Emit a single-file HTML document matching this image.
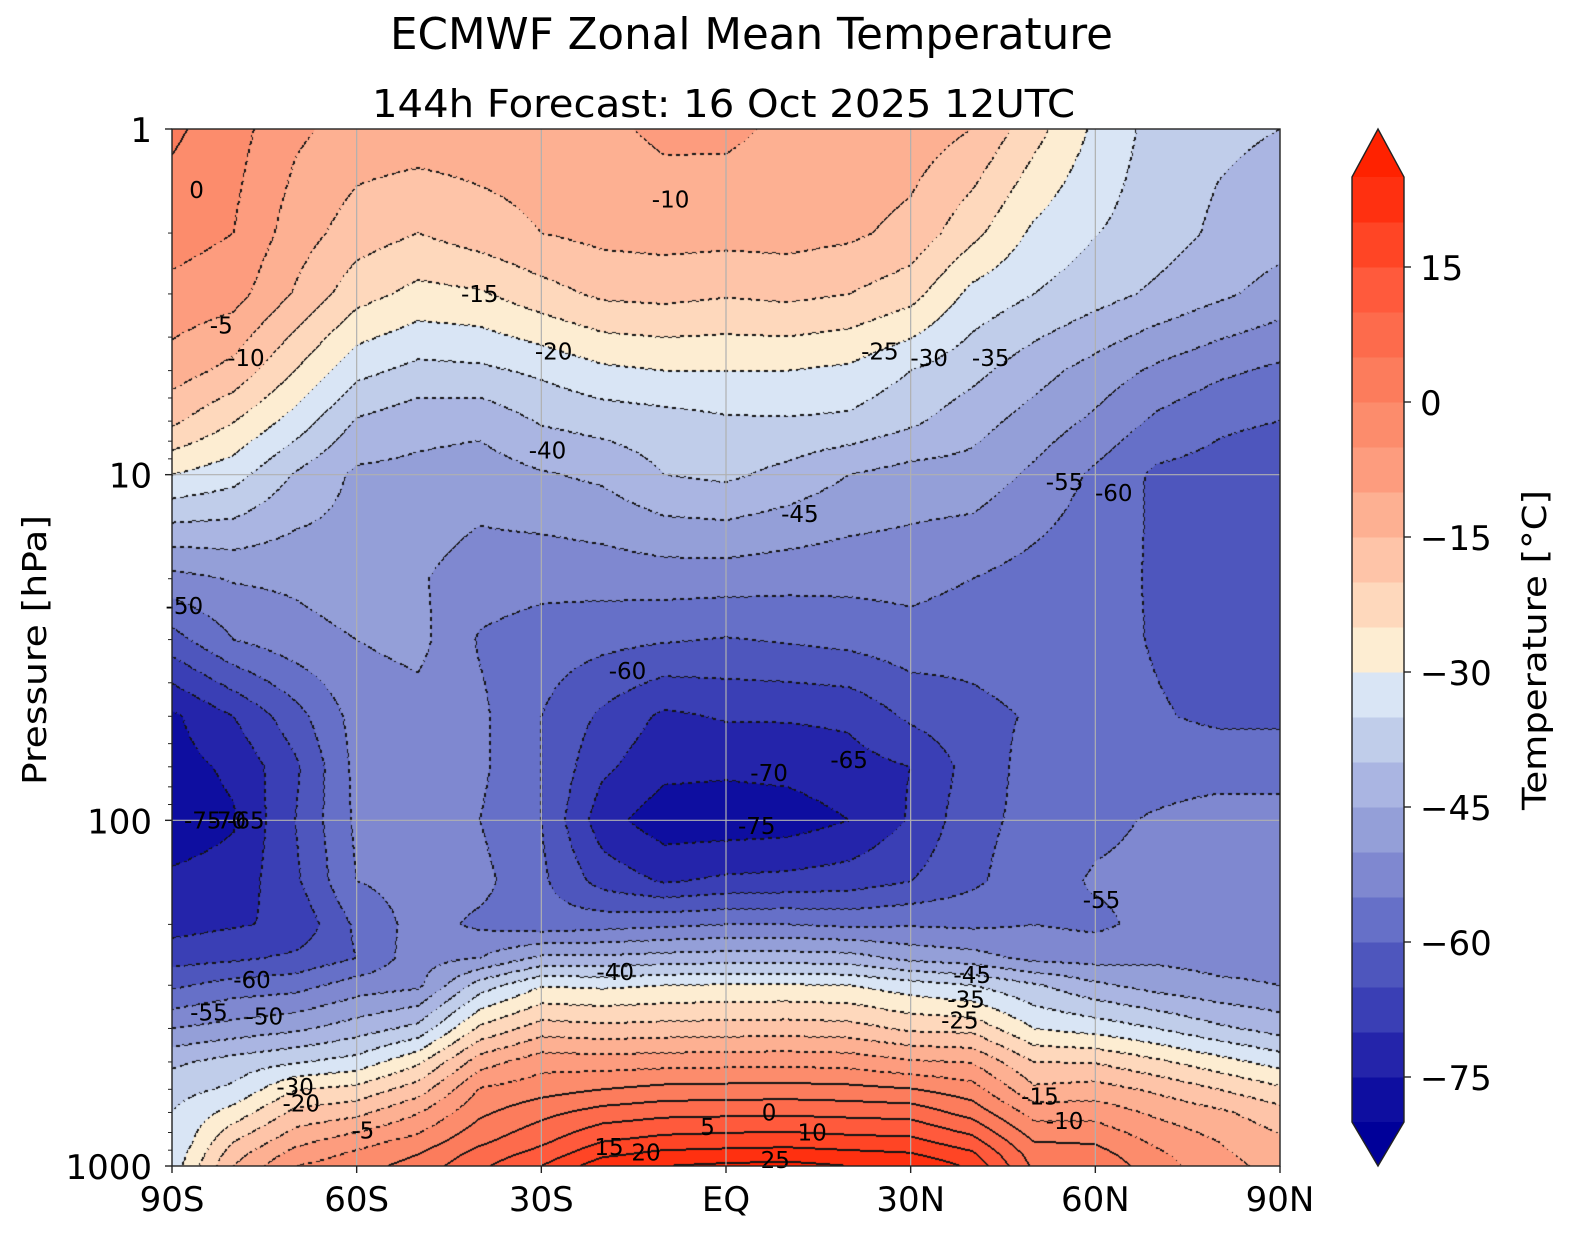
<!DOCTYPE html>
<html><head><meta charset="utf-8"><style>
html,body{margin:0;padding:0;background:#fff;}
#root{position:relative;width:1572px;height:1235px;overflow:hidden;font-family:"DejaVu Sans","Liberation Sans",sans-serif;}
canvas{position:absolute;left:172px;top:129px;}
svg{position:absolute;left:0;top:0;font-family:"DejaVu Sans","Liberation Sans",sans-serif;}
</style></head><body>
<div id="root">
<canvas id="cv" width="1108" height="1037"></canvas>
<svg id="sv" width="1572" height="1235"></svg>
</div>
<script>
// ---- data ----
const lats = [-90,-80,-70,-60,-50,-40,-30,-20,-10,0,10,20,30,40,50,60,70,80,90];
const pressures = [1,2,3,5,7,10,20,30,50,70,100,150,200,250,300,400,500,600,700,850,925,1000];
const t_p1   = [1,-3,-9,-12,-12,-12,-12,-11,-9,-9,-11,-11,-12,-15,-23,-31,-37,-39,-40];
const t_p2   = [-3,-5,-12.5,-17.5,-20,-17.5,-15,-13.5,-13,-13.2,-13,-14,-16.6,-23.5,-31,-34.8,-37.5,-41,-43];
const t_p3   = [-6.3,-8,-15.5,-23,-26.5,-25.6,-22,-19,-18.5,-19.5,-18.8,-20,-23,-31.5,-35,-38,-41,-44,-47];
const t_p5   = [-12.5,-16.6,-25,-33.5,-36.5,-36,-34,-31,-30,-30,-30,-31,-35,-38.5,-43,-47,-51,-54,-56];
const t_p7   = [-19,-24.8,-32,-40.5,-43,-43.5,-39.5,-38,-37,-35.7,-35.5,-36,-39,-43,-47,-51,-56,-59,-60];
const t_p10  = [-30,-33,-40.5,-46,-46.5,-47.6,-45.5,-44,-40,-39,-41.5,-45,-47,-47,-51,-56,-61,-62,-64];
const t_p20  = [-51.7,-49.6,-49,-47,-49.5,-52.5,-53.4,-53,-52.6,-52.7,-53.3,-53.5,-53.3,-55,-57,-58.5,-60.5,-63,-65];
const t_p30  = [-62,-55,-52,-50,-48.5,-55.5,-57.3,-58.5,-59.5,-60.3,-59.5,-58.5,-57,-58,-57,-58,-60.5,-62.5,-63];
const t_p50  = [-76,-70,-62,-53,-52,-54,-60,-66,-71,-69.5,-69.5,-69,-64,-61.5,-59.5,-58,-59.5,-61,-61];
const t_p70  = [-77,-74,-66,-53.5,-52,-54,-60,-69,-73.5,-74,-73.5,-72,-70,-63,-58,-57,-57,-57,-57];
const t_p100 = [-78,-75.5,-65,-54,-52,-55,-60,-73,-78,-78,-77.5,-75,-69.5,-61.5,-58.5,-56,-54.5,-53,-53];
const t_p150 = [-74,-73,-66,-55,-53,-53.5,-59,-67,-70.5,-69,-68.5,-67.5,-65,-61,-57,-54.5,-54,-53.5,-53.5];
const t_p200 = [-72,-70.5,-69,-59,-53,-56,-58,-57,-56,-55,-55,-56,-55.5,-56,-55,-56,-53.5,-54,-54];
const t_p250 = [-67,-66,-64,-60,-52,-50,-44,-44,-43,-42.5,-42.5,-43,-46.5,-48,-51.5,-52,-51,-52,-52];
const t_p300 = [-61,-58,-57,-52.7,-51,-37.7,-30.4,-31,-30,-29.5,-29.5,-30,-32.7,-35,-39.3,-44,-47,-49,-50];
const t_p400 = [-50,-48,-46,-42.5,-38.5,-24,-17.5,-18.5,-18,-17.7,-17.5,-18,-21,-21.5,-30,-32,-35,-39,-42];
const t_p500 = [-41,-38,-35.5,-33,-26,-12.3,-7,-7.5,-7,-6.7,-6.5,-7,-9.3,-10.3,-20,-20.3,-24,-28,-32];
const t_p600 = [-37,-34,-25.3,-23.5,-17.5,-4.6,-2,0,1.5,1.8,2,1.5,0.3,-2.8,-14,-12.8,-16,-20,-24];
const t_p700 = [-35,-28,-18.7,-16.5,-10.3,-1,3.5,7,8.5,8.8,9,8.5,8,3,-7,-7,-11,-14,-18];
const t_p850 = [-35,-20,-11.5,-7,-3,4,9,15,17,17.7,18,17,16.5,12,0,-0.5,-6,-10,-14];
const t_p925 = [-34,-17,-8,-4,0,7,12,19,21.5,22,22.5,21.5,20.5,16,2.5,2,-4,-9,-13];
const t_p1000= [-33,-15,-5,-2,2,9,15,23,25,26,26.5,25,24.5,19,4,4,-3,-8,-12];
const grid = [t_p1,t_p2,t_p3,t_p5,t_p7,t_p10,t_p20,t_p30,t_p50,t_p70,t_p100,t_p150,t_p200,t_p250,t_p300,t_p400,t_p500,t_p600,t_p700,t_p850,t_p925,t_p1000];
const levelMin = -80, levelStep = 5;
const bandColors = ['#0e0ea0','#2424aa','#3a3fb5','#4e56bd','#6670c8','#7f88d0','#949fd8','#aab5e2','#c0cdea','#d9e5f5','#fdedd2','#fed8bc','#fec4a8','#fdb092','#fd9c7e','#fc8c6c','#fc7c5c','#fd6b4c','#ff5a3c','#ff4525','#ff3010'];
const underColor = '#000099', overColor = '#ff2200';
const cbTicks = [15,0,-15,-30,-45,-60,-75];
const xTickLats = [-90,-60,-30,0,30,60,90];
const xTickLabels = ['90S','60S','30S','EQ','30N','60N','90N'];
const yTicks = [1,10,100,1000];
const contourLabels = [['0',-86,1.5],['-5',-82,3.7],['-10',-78,4.6],['-15',-40,3.0],['-10',-9,1.6],['-20',-28,4.4],['-25',25,4.4],['-30',33,4.6],['-35',43,4.6],['-40',-29,8.5],['-45',12,13],['-55',55,10.5],['-60',63,11.3],['-50',-88,24],['-60',-16,37],['-70',7,73],['-65',20,67],['-75',5,104],['-75',-85,100],['-70',-81,100],['-65',-78,100],['-40',-18,275],['-45',40,280],['-55',-84,360],['-60',-77,290],['-50',-75,370],['-35',39,330],['-25',38,380],['-30',-70,590],['-20',-69,660],['-5',-59,790],['0',7,700],['5',-3,770],['10',14,800],['15',-19,880],['20',-13,915],['25',8,960],['-15',51,630],['-10',55,740],['-55',61,170]];

// ---- axes ----
const X0=172,X1=1280,Y0=129,Y1=1166;
const decade=(Y1-Y0)/3;
const xOf = lat => X0 + (lat+90)/180*(X1-X0);
const yOf = p => Y0 + Math.log10(p)*decade;
const cbTop=177, cbBot=1122, cbX=1352, cbW=52;
const cbY = v => cbTop + (25 - v)/105*(cbBot-cbTop);

// ---- fill ----
const cv=document.getElementById('cv'), ctx=cv.getContext('2d');
const W=cv.width,H=cv.height;
const img=ctx.createImageData(W,H);
const logP=pressures.map(p=>Math.log10(p));
function hex(c){return [parseInt(c.substr(1,2),16),parseInt(c.substr(3,2),16),parseInt(c.substr(5,2),16)];}
const rgb=bandColors.map(hex), rgbU=hex(underColor), rgbO=hex(overColor);
const lev=new Int16Array(W*H);
for(let py=0;py<H;py++){
  const lp=(py+0.5)/decade;
  let i=0; while(i<logP.length-2 && logP[i+1]<lp) i++;
  let fy=(lp-logP[i])/(logP[i+1]-logP[i]); fy=Math.max(0,Math.min(1,fy));
  const r0=grid[i], r1=grid[i+1];
  for(let px=0;px<W;px++){
    const lat=-90+(px+0.5)/W*180;
    let j=Math.min(lats.length-2,Math.floor((lat+90)/10));
    const fx=(lat-lats[j])/10;
    const t=(r0[j]*(1-fx)+r0[j+1]*fx)*(1-fy)+(r1[j]*(1-fx)+r1[j+1]*fx)*fy;
    lev[py*W+px]=Math.floor((t-levelMin)/levelStep);
  }
}
for(let py=0;py<H;py++){for(let px=0;px<W;px++){
  const k=py*W+px,l=lev[k];
  let c=l<0?rgbU:(l>=rgb.length?rgbO:rgb[l]);
  let edge=-999;
  if(px<W-1&&lev[k+1]!==l) edge=Math.max(l,lev[k+1]);
  if(py<H-1&&lev[k+W]!==l) edge=Math.max(edge,Math.max(l,lev[k+W]));
  if(px>0&&lev[k-1]!==l) edge=Math.max(edge,Math.max(l,lev[k-1]));
  if(py>0&&lev[k-W]!==l) edge=Math.max(edge,Math.max(l,lev[k-W]));
  if(edge>-999){
    const val=levelMin+edge*levelStep;
    const dash=(Math.floor(px/4)+Math.floor(py/4))%2===0;
    if(val>=0||dash) c=[20,20,20];
  }
  img.data[k*4]=c[0];img.data[k*4+1]=c[1];img.data[k*4+2]=c[2];img.data[k*4+3]=255;
}}
ctx.putImageData(img,0,0);

// ---- svg ----
const NS='http://www.w3.org/2000/svg', sv=document.getElementById('sv');
function mk(tag,attrs,parent){const e=document.createElementNS(NS,tag);for(const k in attrs)e.setAttribute(k,attrs[k]);(parent||sv).appendChild(e);return e;}
// grid
xTickLats.slice(1,-1).forEach(lat=>{const l=mk('line',{x1:xOf(lat),x2:xOf(lat),y1:Y0,y2:Y1,stroke:'#b0b0b0','stroke-width':1.2});

});
[10,100].forEach(p=>{const l=mk('line',{x1:X0,x2:X1,y1:yOf(p),y2:yOf(p),stroke:'#b0b0b0','stroke-width':1.2});

});
// contour labels
contourLabels.forEach(c=>{const t=mk('text',{x:xOf(c[1]),y:yOf(c[2])+8,'font-size':23,'text-anchor':'middle',fill:'#000'});t.textContent=c[0];

});
// frame
const fr=mk('rect',{x:X0,y:Y0,width:X1-X0,height:Y1-Y0,fill:'none',stroke:'#222','stroke-width':1.4});


// x ticks
xTickLats.forEach((lat,i)=>{mk('line',{x1:xOf(lat),x2:xOf(lat),y1:Y1,y2:Y1+7,stroke:'#222','stroke-width':1.4});
const t=mk('text',{x:xOf(lat),y:1211,'font-size':34,'text-anchor':'middle',fill:'#000'});t.textContent=xTickLabels[i];

});
// y ticks
yTicks.forEach(p=>{mk('line',{x1:X0-7,x2:X0,y1:yOf(p),y2:yOf(p),stroke:'#222','stroke-width':1.4});
const t=mk('text',{x:X0-20,y:yOf(p)+13,'font-size':34,'text-anchor':'end',fill:'#000'});t.textContent=String(p);

});
for(let d=0;d<3;d++){for(let m=2;m<10;m++){const y=yOf(Math.pow(10,d)*m);mk('line',{x1:X0-4,x2:X0,y1:y,y2:y,stroke:'#222','stroke-width':1});}}
// titles
let t=mk('text',{x:390,y:49,'font-size':44,fill:'#000',textLength:723,lengthAdjust:'spacingAndGlyphs'});t.textContent='ECMWF Zonal Mean Temperature';


t=mk('text',{x:372,y:117,'font-size':38,fill:'#000','xml:space':'preserve',textLength:703,lengthAdjust:'spacingAndGlyphs'});t.textContent='144h  Forecast:  16 Oct 2025  12UTC';


t=mk('text',{x:0,y:0,'font-size':33,'text-anchor':'middle',fill:'#000',transform:'translate(46,650) rotate(-90)',textLength:270,lengthAdjust:'spacingAndGlyphs'});t.textContent='Pressure [hPa]';


t=mk('text',{x:0,y:0,'font-size':33,'text-anchor':'middle',fill:'#000',transform:'translate(1546,650) rotate(-90)',textLength:320,lengthAdjust:'spacingAndGlyphs'});t.textContent='Temperature [°C]';


// colorbar
const cb=mk('g',{});


bandColors.forEach((c,i)=>{const lo=levelMin+i*levelStep;const r=mk('rect',{x:cbX,y:cbY(lo+levelStep),width:cbW,height:cbY(lo)-cbY(lo+levelStep)+0.5,fill:c},cb);

});
mk('polygon',{points:`${cbX},${cbTop} ${cbX+cbW/2},${Y0} ${cbX+cbW},${cbTop}`,fill:overColor},cb);
mk('polygon',{points:`${cbX},${cbBot} ${cbX+cbW/2},${Y1} ${cbX+cbW},${cbBot}`,fill:underColor},cb);
mk('polygon',{points:`${cbX},${cbTop} ${cbX+cbW/2},${Y0} ${cbX+cbW},${cbTop} ${cbX+cbW},${cbBot} ${cbX+cbW/2},${Y1} ${cbX},${cbBot}`,fill:'none',stroke:'#222','stroke-width':1.4},cb);
cbTicks.forEach(v=>{mk('line',{x1:cbX+cbW,x2:cbX+cbW+7,y1:cbY(v),y2:cbY(v),stroke:'#222','stroke-width':1.4},cb);
const tt=mk('text',{x:cbX+cbW+16,y:cbY(v)+13,'font-size':34,fill:'#000'},cb);tt.textContent=v<0?'\u2212'+Math.abs(v):String(v);

});
</script>
</body></html>
